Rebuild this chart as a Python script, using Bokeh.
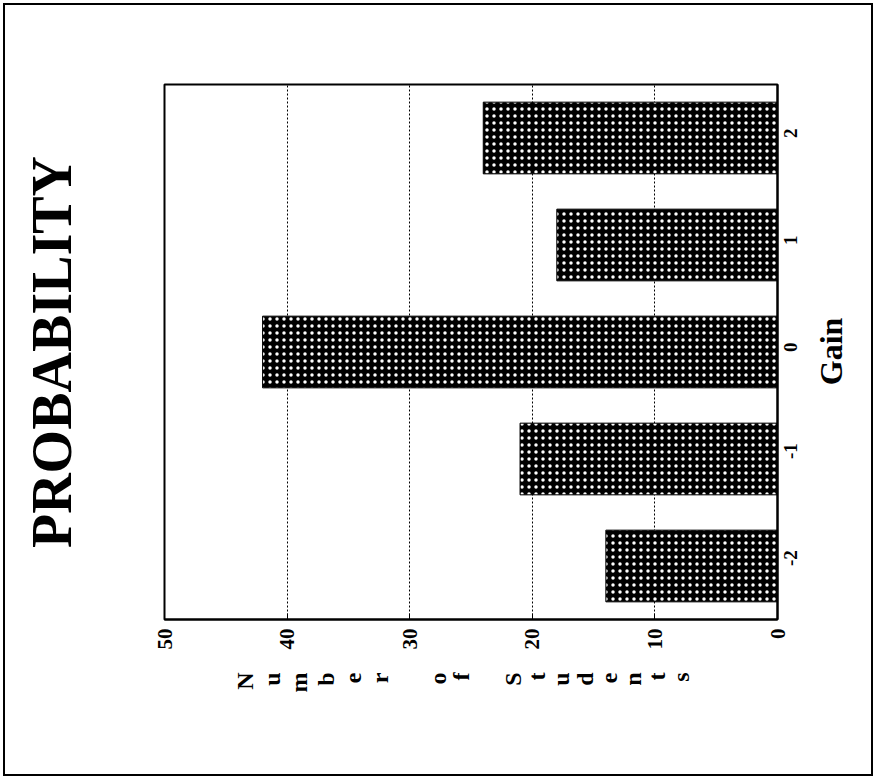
import math
from bokeh.plotting import figure
from bokeh.models import Range1d, FixedTicker, LinearAxis
from bokeh.embed import file_html
from bokeh.resources import INLINE

# ---- data ----
gains = [-2, -1, 0, 1, 2]
gain_labels = ["-2", "-1", "0", "1", "2"]
students = [14, 21, 42, 18, 24]
x_ticks = [0, 10, 20, 30, 40, 50]
grid_ticks = [10, 20, 30, 40]
title_text = "PROBABILITY"
x_label = "Gain"
y_label = "Number of Students"
# pixel positions (canvas x) of the stacked letters of y_label
letter_px = [244, 271, 298, 325, 352, 379, 437, 460, 512, 536, 560, 584, 608, 632, 656, 680]
gain_label_start = -0.31   # data y where the upward-reading "Gain" starts

SERIF = "Liberation Serif"
W, H = 877, 782
FL, FR, FT, FB = 164, 777, 84, 619

p = figure(width=W, height=H, output_backend="svg", toolbar_location=None,
           x_range=Range1d(50, 0), y_range=Range1d(-2.5, 2.5),
           y_axis_location="right", x_axis_location="below",
           min_border_left=FL, min_border_right=W - FR,
           min_border_top=FT, min_border_bottom=H - FB)
p.extra_x_ranges = {"letters": Range1d(FL, FR)}

p.background_fill_color = "white"
p.border_fill_color = "white"
p.outline_line_color = "black"
p.outline_line_width = 2

p.hbar(y=gains, right=students, left=0, height=0.67,
       fill_color="black", line_color="black", line_width=1,
       hatch_pattern="dot", hatch_color="white", hatch_scale=7, hatch_weight=1)

# grid
p.ygrid.visible = False
p.xgrid.ticker = FixedTicker(ticks=grid_ticks)
p.xgrid.grid_line_color = "black"
p.xgrid.grid_line_dash = "2 2"
p.xgrid.grid_line_width = 1

# value axis (bottom)
xa = p.xaxis[0]
xa.ticker = FixedTicker(ticks=x_ticks)
xa.axis_line_color = "black"
xa.axis_line_width = 2
xa.major_tick_in = 6
xa.major_tick_out = 0
xa.major_tick_line_color = "black"
xa.minor_tick_line_color = None
xa.major_label_orientation = math.pi / 2
xa.major_label_standoff = 9
xa.major_label_text_font = SERIF
xa.major_label_text_font_style = "bold"
xa.major_label_text_font_size = "21px"
xa.major_label_text_color = "black"

# stacked letters of the value-axis label, drawn as rotated labels of a bare axis
letters = [c for c in y_label if c != " "]
la = LinearAxis(x_range_name="letters", ticker=FixedTicker(ticks=letter_px))
la.major_label_overrides = {px: ch for px, ch in zip(letter_px, letters)}
la.axis_line_color = None
la.major_tick_line_color = None
la.minor_tick_line_color = None
la.major_label_orientation = math.pi / 2
la.major_label_standoff = 14
la.major_label_text_font = SERIF
la.major_label_text_font_style = "bold"
la.major_label_text_font_size = "24px"
la.major_label_text_color = "black"
p.add_layout(la, "below")

# category axis (right)
ya = p.yaxis[0]
ya.ticker = FixedTicker(ticks=gains)
ya.major_label_overrides = {g: t for g, t in zip(gains, gain_labels)}
ya.axis_line_color = "black"
ya.axis_line_width = 2
ya.major_tick_line_color = None
ya.minor_tick_line_color = None
ya.major_label_orientation = math.pi / 2
ya.major_label_standoff = 7
ya.major_label_text_font = SERIF
ya.major_label_text_font_style = "bold"
ya.major_label_text_font_size = "19px"
ya.major_label_text_color = "black"

# "Gain" title of the category axis, reading upward
ga = LinearAxis(ticker=FixedTicker(ticks=[gain_label_start]),
                major_label_overrides={gain_label_start: x_label},
                axis_line_color=None, major_tick_line_color=None, minor_tick_line_color=None,
                major_label_orientation=math.pi / 2, major_label_standoff=19,
                major_label_text_font=SERIF, major_label_text_font_style="bold",
                major_label_text_font_size="32px", major_label_text_color="black")
p.add_layout(ga, "right")

# chart title on the left, reading upward (label of a bare left axis)
ta = LinearAxis(ticker=FixedTicker(ticks=[]), axis_label=title_text,
                axis_line_color=None, major_tick_line_color=None, minor_tick_line_color=None,
                major_tick_out=0, major_tick_in=0, major_label_standoff=0,
                axis_label_standoff=82,
                axis_label_text_font=SERIF, axis_label_text_font_style="bold",
                axis_label_text_font_size="56px", axis_label_text_color="black")
p.add_layout(ta, "left")

html = file_html(p, INLINE)
# thin frame around the whole page, as in the scanned original
frame_css = ("<style>body::after{content:'';position:fixed;left:3px;top:3px;width:870px;"
             "height:773px;border:2px solid black;box-sizing:border-box;pointer-events:none;"
             "z-index:10;}</style>")
html = html.replace("</head>", frame_css + "</head>")
open("out.html", "w").write(html)
